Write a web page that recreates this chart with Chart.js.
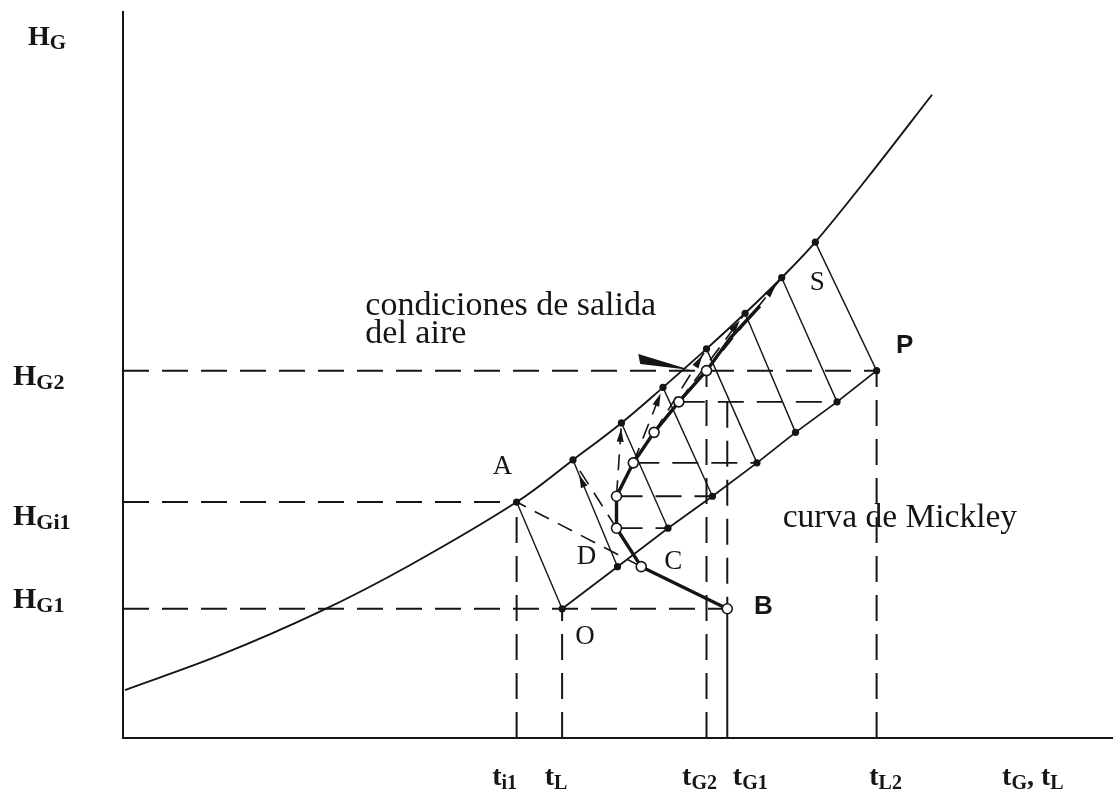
<!DOCTYPE html>
<html>
<head>
<meta charset="utf-8">
<script src="https://cdn.jsdelivr.net/npm/chart.js@4.4.0/dist/chart.umd.min.js"></script>
<style>
  html, body { margin: 0; padding: 0; background: #fff; }
  #wrap { width: 1120px; height: 796px; }
</style>
</head>
<body>
<div id="wrap"><canvas id="chart"></canvas></div>
<script>
// curva de equilibrio H* = f(tL)
const eqT = [0.2, 9.8, 19.9, 29.0, 39.8, 45.5, 50.4, 54.6, 59.0, 62.9, 66.6, 70.0, 75.3, 81.8];
const eqH = [6.6, 11.4, 17.4, 23.8, 32.5, 38.3, 43.4, 48.3, 53.6, 58.5, 63.4, 68.3, 77.2, 88.6];
// puntos de la curva unidos a la recta de operacion (A ... S)
const tieIdx = [4, 5, 6, 7, 8, 9, 10, 11];

// recta de operacion, de O a P
const opT = [44.4, 50.0, 55.1, 59.6, 64.1, 68.0, 72.2, 76.2];
const opH = [17.8, 23.6, 28.9, 33.3, 37.9, 42.1, 46.3, 50.6];

// curva de Mickley, de B hacia la salida del aire
const mkT = [61.1, 52.4, 49.9, 49.9, 51.6, 53.7, 56.2, 59.0, 61.4, 64.4];
const mkH = [17.8, 23.6, 28.9, 33.3, 37.9, 42.1, 46.3, 50.6, 55.1, 59.5];
const mkCircles = 8;

// marcas de los ejes
const yTickVals = [17.8, 32.5, 50.6];
const yTickText = [[['H', 0], ['G1', 1]], [['H', 0], ['Gi1', 1]], [['H', 0], ['G2', 1]]];
const xTickVals = [39.8, 44.4, 59.0, 61.1, 76.2];
const xTickText = [[['t', 0], ['i1', 1]], [['t', 0], ['L', 1]], [['t', 0], ['G2', 1]], [['t', 0], ['G1', 1]], [['t', 0], ['L2', 1]]];

const INK = '#151515';
const DASH = [26, 13];
const pts = (xs, ys) => xs.map((x, i) => ({ x, y: ys[i] }));

const datasets = [];
function seg(x1, y1, x2, y2, extra) {
  datasets.push(Object.assign({
    type: 'scatter', showLine: true, data: [{ x: x1, y: y1 }, { x: x2, y: y2 }],
    borderColor: INK, borderWidth: 1.4, pointRadius: 0, fill: false
  }, extra || {}));
}

// circulos abiertos de Mickley
datasets.push({
  type: 'scatter', data: pts(mkT.slice(0, mkCircles), mkH.slice(0, mkCircles)),
  pointRadius: 5, pointBackgroundColor: '#fff', pointBorderColor: INK, pointBorderWidth: 1.6
});
// trazo grueso de la curva de Mickley
datasets.push({
  type: 'scatter', showLine: true, data: pts(mkT, mkH),
  borderColor: INK, borderWidth: 3.4, pointRadius: 0
});
// puntos sobre la curva de equilibrio
datasets.push({
  type: 'scatter', data: tieIdx.map(i => ({ x: eqT[i], y: eqH[i] })),
  pointRadius: 3.6, pointBackgroundColor: INK, pointBorderWidth: 0
});
// recta de operacion
datasets.push({
  type: 'scatter', showLine: true, data: pts(opT, opH),
  borderColor: INK, borderWidth: 1.8, pointRadius: 3.6, pointBackgroundColor: INK, pointBorderWidth: 0
});
// curva de equilibrio
datasets.push({
  type: 'line', data: pts(eqT, eqH), tension: 0.35,
  borderColor: INK, borderWidth: 1.9, pointRadius: 0
});
// lineas de union
tieIdx.forEach((k, i) => seg(opT[i], opH[i], eqT[k], eqH[k]));
// construccion: de cada punto de Mickley hacia la curva
for (let i = 1; i < 8; i++) {
  const k = tieIdx[i - 1];
  seg(mkT[i], mkH[i], eqT[k], eqH[k], { borderDash: [16, 10], borderWidth: 1.6 });
}
[2, 3, 4, 6].forEach(i => seg(mkT[i], mkH[i], opT[i], opH[i], { borderDash: DASH, borderWidth: 1.8 }));

// lineas de referencia a los ejes
const A = tieIdx[0];
seg(0, opH[7], opT[7], opH[7], { borderDash: DASH, borderWidth: 2 });
seg(0, eqH[A], eqT[A], eqH[A], { borderDash: DASH, borderWidth: 2 });
seg(0, mkH[0], mkT[0], mkH[0], { borderDash: DASH, borderWidth: 2 });
seg(eqT[A], 0, eqT[A], eqH[A], { borderDash: DASH, borderWidth: 2 });
seg(opT[0], 0, opT[0], opH[0], { borderDash: DASH, borderWidth: 2 });
seg(opT[7], 0, opT[7], opH[7], { borderDash: DASH, borderWidth: 2 });
seg(mkT[7], 0, mkT[7], mkH[7], { borderDash: DASH, borderWidth: 2 });
seg(mkT[0], mkH[6], mkT[0], mkH[0], { borderDash: DASH, borderWidth: 2 });
seg(mkT[0], 0, mkT[0], mkH[0], { borderWidth: 2 });

// letras junto a los puntos (desplazamiento en px)
const pointTags = [
  { t: 'A', at: () => [eqT[A], eqH[A]], dx: -14, dy: -35 },
  { t: 'O', at: () => [opT[0], opH[0]], dx: 23, dy: 28 },
  { t: 'D', at: () => [opT[1], opH[1]], dx: -31, dy: -10 },
  { t: 'C', at: () => [mkT[1], mkH[1]], dx: 32, dy: -5 },
  { t: 'S', at: () => [eqT[tieIdx[7]], eqH[tieIdx[7]]], dx: 2, dy: 41 },
  { t: 'B', at: () => [mkT[0], mkH[0]], dx: 36, dy: -2, bold: true },
  { t: 'P', at: () => [opT[7], opH[7]], dx: 28, dy: -25, bold: true }
];

function rich(ctx, parts, x, y, size, subSize, center) {
  const fMain = `bold ${size}px "Liberation Serif"`;
  const fSub = `bold ${subSize}px "Liberation Serif"`;
  let w = 0;
  parts.forEach(([s, sub]) => { ctx.font = sub ? fSub : fMain; w += ctx.measureText(s).width; });
  let cx = center ? x - w / 2 : x;
  parts.forEach(([s, sub]) => {
    ctx.font = sub ? fSub : fMain;
    ctx.fillText(s, cx, sub ? y + 4 : y);
    cx += ctx.measureText(s).width;
  });
}

function arrowHead(ctx, x1, y1, x2, y2, f) {
  const px = x1 + (x2 - x1) * f, py = y1 + (y2 - y1) * f;
  const a = Math.atan2(y2 - y1, x2 - x1);
  ctx.beginPath();
  ctx.moveTo(px, py);
  ctx.lineTo(px - 13 * Math.cos(a) + 3.5 * Math.sin(a), py - 13 * Math.sin(a) - 3.5 * Math.cos(a));
  ctx.lineTo(px - 13 * Math.cos(a) - 3.5 * Math.sin(a), py - 13 * Math.sin(a) + 3.5 * Math.cos(a));
  ctx.closePath();
  ctx.fill();
}

const notes = {
  id: 'notes',
  afterDatasetsDraw(chart) {
    const { ctx, scales: { x, y } } = chart;
    const X = v => x.getPixelForValue(v), Y = v => y.getPixelForValue(v);
    ctx.save();
    ctx.fillStyle = INK;
    ctx.textBaseline = 'alphabetic';

    // flechas de la construccion
    arrowHead(ctx, X(opT[1]), Y(opH[1]), X(eqT[tieIdx[1]]), Y(eqH[tieIdx[1]]), 0.86);
    for (let i = 3; i < 8; i++) {
      const k = tieIdx[i - 1];
      arrowHead(ctx, X(mkT[i]), Y(mkH[i]), X(eqT[k]), Y(eqH[k]), 0.92);
    }

    // cuña que senala la salida del aire
    ctx.beginPath();
    ctx.moveTo(X(52.1), Y(52.9));
    ctx.lineTo(X(57.4), Y(50.7));
    ctx.lineTo(X(52.3), Y(51.5));
    ctx.closePath();
    ctx.fill();

    // letras de los puntos
    ctx.textAlign = 'center';
    ctx.textBaseline = 'middle';
    pointTags.forEach(p => {
      const [tx, ty] = p.at();
      ctx.font = p.bold ? 'bold 26px "Liberation Sans"' : '27px "Liberation Serif"';
      ctx.fillText(p.t, X(tx) + p.dx, Y(ty) + p.dy);
    });

    // textos
    ctx.textAlign = 'left';
    ctx.textBaseline = 'alphabetic';
    ctx.font = '34px "Liberation Serif"';
    ctx.fillText('condiciones de salida', X(24.5), Y(58.3));
    ctx.fillText('del aire', X(24.5), Y(54.4));
    ctx.font = '33.5px "Liberation Serif"';
    ctx.fillText('curva de Mickley', X(66.7), Y(29.1));

    // rotulos de los ejes
    const yDy = [-1, 23, 14];
    yTickVals.forEach((v, i) => rich(ctx, yTickText[i], 13, Y(v) + yDy[i], 30, 22, false));
    rich(ctx, [['H', 0], ['G', 1]], 28, 45, 28, 21, false);
    const xDx = [-12, -6, -7, 23, 9];
    xTickVals.forEach((v, i) => rich(ctx, xTickText[i], X(v) + xDx[i], 785, 28, 20, true));
    rich(ctx, [['t', 0], ['G', 1], [', t', 0], ['L', 1]], X(92), 785, 28, 20, true);
    ctx.restore();
  }
};

new Chart(document.getElementById('chart'), {
  type: 'scatter',
  data: { datasets },
  options: {
    responsive: true,
    maintainAspectRatio: false,
    animation: false,
    layout: { padding: { left: 123, right: 8, top: 12, bottom: 58 } },
    plugins: { legend: { display: false }, tooltip: { enabled: false } },
    scales: {
      x: {
        type: 'linear', min: 0, max: 100,
        grid: { display: false, drawTicks: false },
        ticks: { display: false },
        border: { display: true, color: INK, width: 2 }
      },
      y: {
        type: 'linear', min: 0, max: 100,
        grid: { display: false, drawTicks: false },
        ticks: { display: false },
        border: { display: true, color: INK, width: 2 }
      }
    }
  },
  plugins: [notes]
});
</script>
</body>
</html>
